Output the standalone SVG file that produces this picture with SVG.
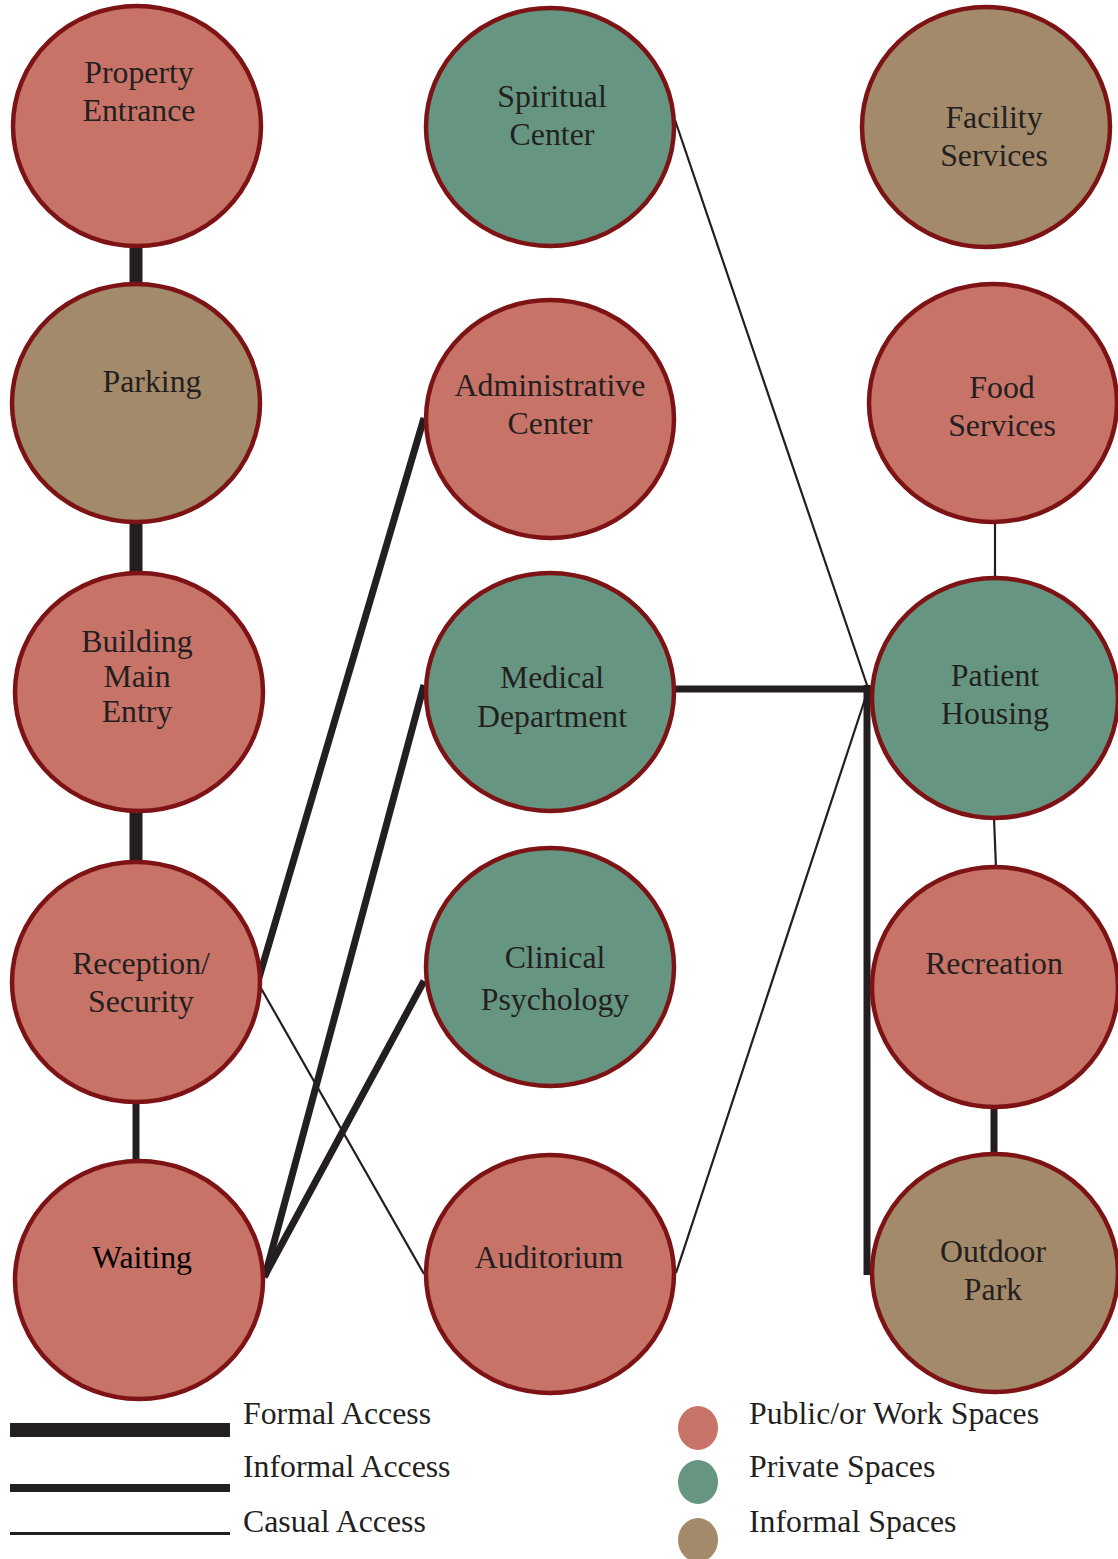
<svg xmlns="http://www.w3.org/2000/svg" width="1118" height="1559" viewBox="0 0 1118 1559">
<style>
.pub{fill:#c87368;stroke:#7d1315;stroke-width:4.5}
.pri{fill:#669682;stroke:#7d1315;stroke-width:4.5}
.inf{fill:#a38a6a;stroke:#7d1315;stroke-width:4.5}
text{font-family:"Liberation Serif","Times New Roman",serif;font-size:31.8px;fill:#231f20;text-anchor:middle}
.lg{text-anchor:start}
.formal{stroke:#231f20;stroke-width:13;fill:none}
.informal{stroke:#231f20;stroke-width:7;fill:none}
.casual{stroke:#231f20;stroke-width:2.2;fill:none}
</style>
<rect width="1118" height="1559" fill="#fff"/>
<g id="connectors">
<line class="formal" x1="136" y1="244" x2="136" y2="286"/>
<line class="formal" x1="136" y1="520" x2="136" y2="576"/>
<line class="formal" x1="136" y1="810" x2="136" y2="864"/>
<line class="informal" x1="136" y1="1100" x2="136" y2="1162"/>
<line class="informal" x1="258" y1="981" x2="424" y2="418"/>
<line class="casual" x1="258" y1="983" x2="424" y2="1274"/>
<line class="informal" x1="265" y1="1276" x2="424" y2="685"/>
<line class="informal" x1="264" y1="1277" x2="424" y2="981"/>
<line class="casual" x1="675" y1="120" x2="868" y2="688"/>
<line class="casual" x1="676" y1="1273" x2="868" y2="690"/>
<line class="informal" x1="675" y1="689" x2="871" y2="689"/>
<line class="informal" x1="867" y1="685" x2="867" y2="1275"/>
<line class="casual" x1="995" y1="522" x2="995" y2="580"/>
<line class="casual" x1="994" y1="818" x2="996" y2="868"/>
<line class="informal" x1="994" y1="1104" x2="994" y2="1158"/>
</g>
<g id="property-entrance"><ellipse class="pub" cx="137" cy="126" rx="124" ry="120"/><text x="139" y="83">Property</text><text x="139" y="121">Entrance</text></g>
<g id="parking"><ellipse class="inf" cx="136" cy="403" rx="124" ry="119"/><text x="152" y="392">Parking</text></g>
<g id="building-main-entry"><ellipse class="pub" cx="139" cy="692" rx="124" ry="119"/><text x="137" y="652">Building</text><text x="137" y="687">Main</text><text x="137" y="722">Entry</text></g>
<g id="reception-security"><ellipse class="pub" cx="136" cy="982" rx="124" ry="120"/><text x="141" y="974">Reception/</text><text x="141" y="1012">Security</text></g>
<g id="waiting"><ellipse class="pub" cx="139" cy="1280" rx="124" ry="119"/><text x="142" y="1268" style="fill:#000">Waiting</text></g>
<g id="spiritual-center"><ellipse class="pri" cx="550" cy="127" rx="124" ry="119"/><text x="552" y="107">Spiritual</text><text x="552" y="145">Center</text></g>
<g id="administrative-center"><ellipse class="pub" cx="550" cy="419" rx="124" ry="119"/><text x="550" y="396">Administrative</text><text x="550" y="434">Center</text></g>
<g id="medical-department"><ellipse class="pri" cx="550" cy="692" rx="124" ry="119"/><text x="552" y="688">Medical</text><text x="552" y="727">Department</text></g>
<g id="clinical-psychology"><ellipse class="pri" cx="550" cy="967" rx="124" ry="119"/><text x="555" y="968">Clinical</text><text x="555" y="1010">Psychology</text></g>
<g id="auditorium"><ellipse class="pub" cx="550" cy="1274" rx="124" ry="119"/><text x="549" y="1268">Auditorium</text></g>
<g id="facility-services"><ellipse class="inf" cx="986" cy="127" rx="124" ry="120"/><text x="994" y="128">Facility</text><text x="994" y="166">Services</text></g>
<g id="food-services"><ellipse class="pub" cx="993" cy="403" rx="124" ry="119"/><text x="1002" y="398">Food</text><text x="1002" y="436">Services</text></g>
<g id="patient-housing"><ellipse class="pri" cx="995" cy="698" rx="123" ry="120"/><text x="995" y="686">Patient</text><text x="995" y="724">Housing</text></g>
<g id="recreation"><ellipse class="pub" cx="995" cy="987" rx="123" ry="120"/><text x="994" y="974">Recreation</text></g>
<g id="outdoor-park"><ellipse class="inf" cx="995" cy="1273" rx="123" ry="119"/><text x="993" y="1262">Outdoor</text><text x="993" y="1300">Park</text></g>
<g id="legend">
<line class="formal" x1="10" y1="1430" x2="230" y2="1430" style="stroke-width:14"/>
<line class="informal" x1="10" y1="1488" x2="230" y2="1488" style="stroke-width:8"/>
<line class="casual" x1="10" y1="1533.5" x2="230" y2="1533.5" style="stroke-width:3"/>
<text class="lg" x="243" y="1424">Formal Access</text>
<text class="lg" x="243" y="1477">Informal Access</text>
<text class="lg" x="243" y="1532">Casual Access</text>
<ellipse cx="698" cy="1428" rx="20" ry="22" fill="#c87368"/>
<ellipse cx="698" cy="1482" rx="20" ry="22" fill="#669682"/>
<ellipse cx="698" cy="1540" rx="20" ry="22" fill="#a38a6a"/>
<text class="lg" x="749" y="1424">Public/or Work Spaces</text>
<text class="lg" x="749" y="1477">Private Spaces</text>
<text class="lg" x="749" y="1532">Informal Spaces</text>
</g>
</svg>
